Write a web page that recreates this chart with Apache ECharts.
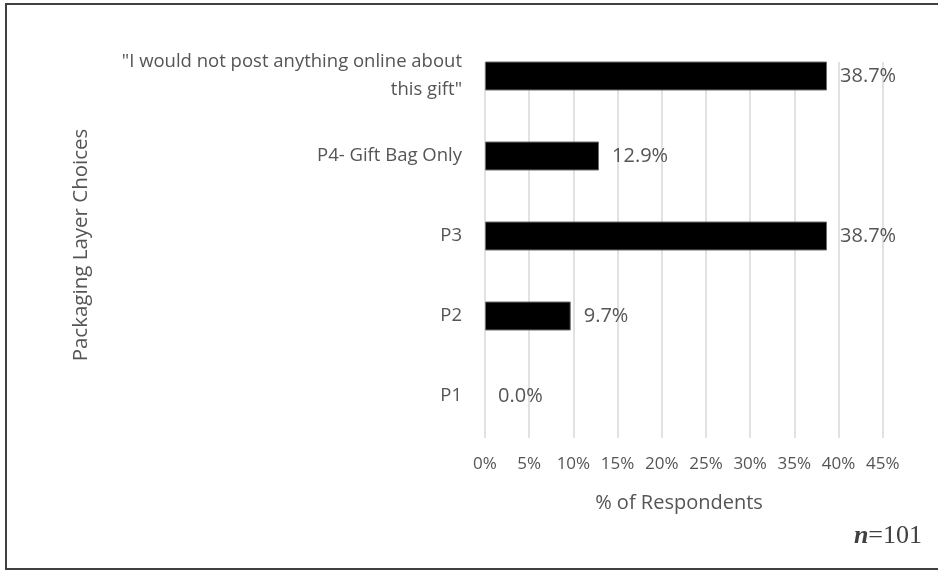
<!DOCTYPE html>
<html>
<head>
<meta charset="utf-8">
<script src="https://cdn.jsdelivr.net/npm/echarts@6/dist/echarts.min.js"></script>
<style>
  html, body { margin: 0; padding: 0; background: #ffffff; }
  #chart { width: 938px; height: 571px; }
</style>
</head>
<body>
<div id="chart"></div>
<script>
// Packaging layer choices, listed bottom to top
const categories = [
  'P1',
  'P2',
  'P3',
  'P4- Gift Bag Only',
  '"I would not post anything online about\nthis gift"'
];
// Share of respondents (%)
const respondentShare = [0.0, 9.7, 38.7, 12.9, 38.7];
// Value axis ticks (%)
const axisMin = 0;
const axisMax = 45;
const axisStep = 5;

const textColor = '#555555';
const fontFamily = '"Open Sans", "Noto Sans", sans-serif';

// zero-length bars get no outline so no stray stroke shows on the axis
const barData = respondentShare.map(v => ({
  value: v,
  itemStyle: { borderWidth: v > 0 ? 1 : 0 }
}));

const chart = echarts.init(document.getElementById('chart'), null, { renderer: 'canvas' });

chart.setOption({
  backgroundColor: '#ffffff',
  animation: false,
  grid: [
    // bars
    { left: 485, right: 55.3, top: 36, height: 400, containLabel: false },
    // vertical gridlines and tick labels
    { left: 485, right: 55.3, top: 62, height: 376, containLabel: false }
  ],
  xAxis: [
    {
      gridIndex: 0,
      type: 'value',
      min: axisMin, max: axisMax, interval: axisStep,
      show: false
    },
    {
      gridIndex: 1,
      type: 'value',
      min: axisMin, max: axisMax, interval: axisStep,
      axisLine: { show: false },
      axisTick: { show: false },
      splitLine: { show: true, lineStyle: { color: '#d9d9d9', width: 1.5 } },
      axisLabel: {
        color: textColor, fontFamily: fontFamily, fontSize: 17, margin: 18,
        formatter: v => v + '%'
      }
    }
  ],
  yAxis: [
    {
      gridIndex: 0,
      type: 'category',
      data: categories,
      axisLine: { show: false },
      axisTick: { show: false },
      splitLine: { show: false },
      axisLabel: {
        color: textColor, fontFamily: fontFamily, fontSize: 18.5,
        lineHeight: 28, margin: 23, align: 'right'
      }
    },
    {
      gridIndex: 1,
      type: 'category',
      data: categories,
      show: false
    }
  ],
  series: [
    {
      type: 'bar',
      xAxisIndex: 0,
      yAxisIndex: 0,
      data: barData,
      barWidth: 29,
      itemStyle: { color: '#000000', borderColor: '#6e6e6e', borderWidth: 1 },
      label: {
        show: true,
        position: 'right',
        distance: 13,
        color: textColor,
        fontFamily: fontFamily,
        fontSize: 20,
        formatter: p => p.value.toFixed(1) + '%'
      }
    }
  ],
  graphic: [
    {
      type: 'rect',
      shape: { x: 6, y: 4, width: 960, height: 565 },
      style: { fill: 'none', stroke: '#404040', lineWidth: 2 },
      silent: true
    },
    {
      // value axis title
      type: 'text',
      x: 679, y: 503,
      style: {
        text: '% of Respondents',
        align: 'center', verticalAlign: 'middle',
        fill: textColor, font: '20px ' + fontFamily
      }
    },
    {
      // category axis title
      type: 'text',
      x: 81, y: 245,
      rotation: Math.PI / 2,
      style: {
        text: 'Packaging Layer Choices',
        align: 'center', verticalAlign: 'middle',
        fill: textColor, font: '20.5px ' + fontFamily
      }
    },
    {
      type: 'text',
      right: 16,
      top: 523,
      style: {
        rich: {
          n: { fontFamily: '"Liberation Serif", "DejaVu Serif", serif', fontStyle: 'italic', fontWeight: 'bold', fontSize: 26, fill: '#404040' },
          v: { fontFamily: '"Liberation Serif", "DejaVu Serif", serif', fontSize: 26, fill: '#404040' }
        },
        text: '{n|n}{v|=101}'
      }
    }
  ]
});
</script>
</body>
</html>
